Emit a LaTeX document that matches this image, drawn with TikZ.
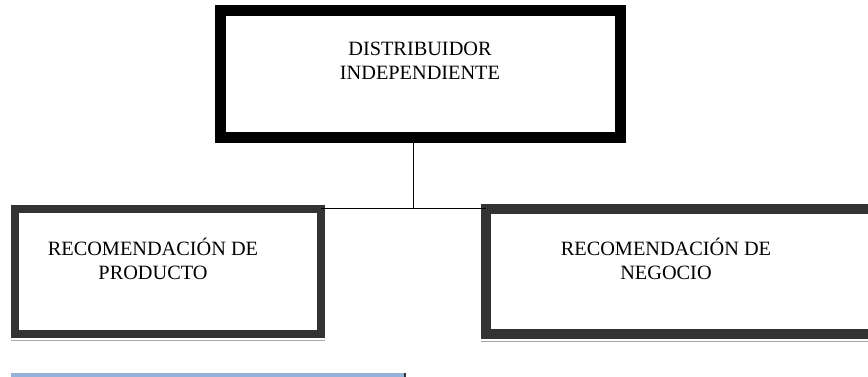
\documentclass[tikz,border=0pt]{standalone}
\usepackage{fontspec}
\setmainfont{Liberation Serif}
\usepackage{xcolor}
\usepackage{tikz}
\usetikzlibrary{calc,positioning}
\definecolor{ink}{HTML}{000000}
\definecolor{frame}{HTML}{333333}
\definecolor{rim}{HTML}{A6A6A6}
\definecolor{bar}{HTML}{95B3D7}
\tikzset{
  topbox/.style={draw=ink, line width=11pt, minimum width=400pt, minimum height=127pt, inner sep=0pt, outer sep=0pt},
  subbox/.style={draw=frame, line width=8pt, minimum height=125pt, inner sep=0pt, outer sep=0pt},
  lab/.style={text=ink, align=center, inner sep=0pt, font=\fontsize{20.3}{24}\selectfont},
  link/.style={draw=ink, line width=1pt},
  shade/.style={draw=rim, line width=0.8pt},
}

\begin{document}
\begin{tikzpicture}[x=1pt,y=1pt]
  \useasboundingbox (0,0) rectangle (868,377);
  \clip (0,0) rectangle (868,377);

  % boxes
  \node[topbox] (dist) at (420.5,303) {};
  \node[subbox, minimum width=306pt] (prod) at (168,105.5) {};
  \node[subbox, minimum width=414pt, line width=10pt] (neg) at (693,105.5) {};

  % texts
  \node[lab] (distT) at (420,316) {DISTRIBUIDOR\\INDEPENDIENTE};
  \node[lab] (prodT) at (153,118) {RECOMENDACIÓN DE\\PRODUCTO};
  \node[lab] (negT) at (666,118) {RECOMENDACIÓN DE\\NEGOCIO};

  % connectors
  \coordinate (split) at (413,168);
  \draw[link] (dist.south -| split) -- (split);
  \draw[link] (prod.north east) -- (neg.north west);

  % thin rims under the lower boxes
  \draw[shade] ($(prod.south west)+(-4,-6)$) -- ($(prod.south east)+(4,-6)$);
  \draw[shade] ($(neg.south west)+(-5,-7)$) -- ($(neg.south east)+(5,-7)$);

  % bar at the foot
  \fill[bar] (11,0) rectangle (406,4);
  \fill[frame] (404,0) rectangle (406,4);
\end{tikzpicture}
\end{document}
